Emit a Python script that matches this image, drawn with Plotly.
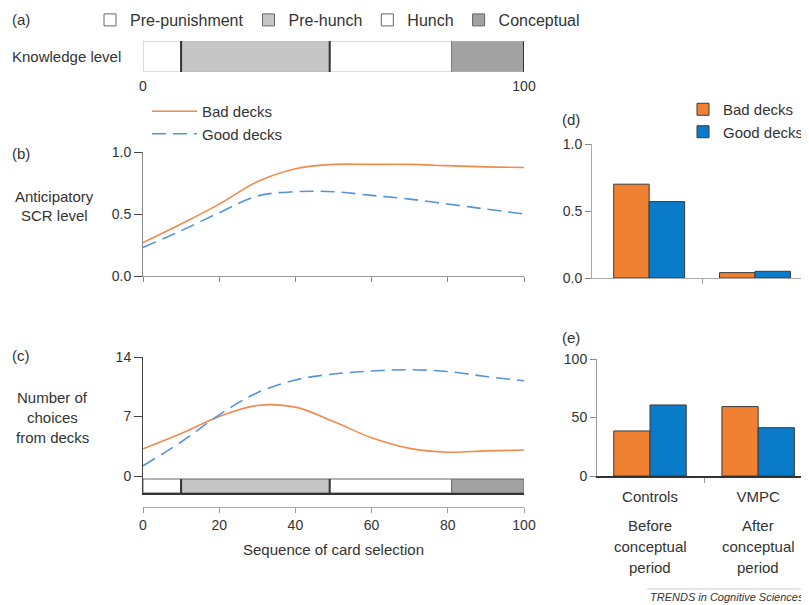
import plotly.graph_objects as go

# The page shows the figure with an 8px body margin, so the figure is laid
# out in screen pixels and converted to paper fractions with that offset.
OX, OY = 8, 8
W, H = 801, 597


def fx(px):
    return (px - OX) / W


def fy(py):
    return 1 - (py - OY) / H


# ---------------- data ----------------
stages = ["Pre-punishment", "Pre-hunch", "Hunch", "Conceptual"]
stage_bounds = [0, 10, 49, 81, 100]
stage_colors = ["#ffffff", "#c6c6c6", "#ffffff", "#a2a2a2"]

seq = [0, 10, 20, 30, 40, 50, 60, 70, 80, 90, 100]
scr_bad = [0.27, 0.42, 0.58, 0.76, 0.865, 0.90, 0.90, 0.90, 0.89, 0.88, 0.875]
scr_good = [0.23, 0.365, 0.51, 0.645, 0.68, 0.68, 0.65, 0.62, 0.58, 0.54, 0.50]
choices_bad = [3.2, 5.0, 7.0, 8.3, 8.1, 6.4, 4.5, 3.25, 2.8, 2.95, 3.05]
choices_good = [1.2, 4.0, 7.2, 9.8, 11.3, 12.0, 12.35, 12.5, 12.3, 11.7, 11.2]

groups = ["Controls", "VMPC"]
group_notes = [["Before", "conceptual", "period"], ["After", "conceptual", "period"]]
scr_bar_bad = [0.70, 0.04]
scr_bar_good = [0.57, 0.05]
pct_bad = [38.5, 59.3]
pct_good = [60.7, 41.3]

ORANGE_LINE = "#F28A4E"
BLUE_LINE = "#5594D8"
ORANGE_BAR = "#F08133"
BLUE_BAR = "#0A7BC8"
TXT = "#333333"
FONT = "Liberation Sans, Arial, sans-serif"

fig = go.Figure()

# ---------------- (a) knowledge level bar ----------------
for name, b0, b1, col in zip(stages, stage_bounds[:-1], stage_bounds[1:], stage_colors):
    fig.add_trace(go.Bar(
        y=[0], x=[b1 - b0], base=[b0], orientation="h", width=1,
        marker=dict(color=col, line=dict(color="#bbbbbb", width=1)),
        xaxis="x", yaxis="y", showlegend=False, hoverinfo="skip", name=name))

# ---------------- (b) anticipatory SCR ----------------
fig.add_trace(go.Scatter(x=seq, y=scr_bad, mode="lines", name="Bad decks",
                         line=dict(color=ORANGE_LINE, width=1.6, shape="spline"),
                         xaxis="x2", yaxis="y2", legend="legend"))
fig.add_trace(go.Scatter(x=seq, y=scr_good, mode="lines", name="Good decks",
                         line=dict(color=BLUE_LINE, width=1.6, shape="spline", dash="14px,7px"),
                         xaxis="x2", yaxis="y2", legend="legend"))

# ---------------- (c) number of choices ----------------
fig.add_trace(go.Scatter(x=seq, y=choices_bad, mode="lines", name="Bad decks",
                         line=dict(color=ORANGE_LINE, width=1.6, shape="spline"),
                         xaxis="x3", yaxis="y3", showlegend=False))
fig.add_trace(go.Scatter(x=seq, y=choices_good, mode="lines", name="Good decks",
                         line=dict(color=BLUE_LINE, width=1.6, shape="spline", dash="14px,7px"),
                         xaxis="x3", yaxis="y3", showlegend=False))

# strip under (c), also provides the stage legend
for name, b0, b1, col in zip(stages, stage_bounds[:-1], stage_bounds[1:], stage_colors):
    fig.add_trace(go.Bar(
        y=[0], x=[b1 - b0], base=[b0], orientation="h", width=1,
        marker=dict(color=col, line=dict(color="#666666", width=1)),
        xaxis="x4", yaxis="y4", legend="legend3", showlegend=True,
        hoverinfo="skip", name=name))

# ---------------- (d) SCR bars ----------------
pos = list(range(len(groups)))
BW = 0.335
fig.add_trace(go.Bar(x=pos, y=scr_bar_bad, name="Bad decks", width=BW, offset=-BW,
                     marker=dict(color=ORANGE_BAR, line=dict(color="#3a3a3a", width=1)),
                     xaxis="x5", yaxis="y5", legend="legend2"))
fig.add_trace(go.Bar(x=pos, y=scr_bar_good, name="Good decks", width=BW, offset=0,
                     marker=dict(color=BLUE_BAR, line=dict(color="#3a3a3a", width=1)),
                     xaxis="x5", yaxis="y5", legend="legend2"))

# ---------------- (e) percentage bars ----------------
fig.add_trace(go.Bar(x=pos, y=pct_bad, name="Bad decks", width=BW, offset=-BW,
                     marker=dict(color=ORANGE_BAR, line=dict(color="#3a3a3a", width=1)),
                     xaxis="x6", yaxis="y6", showlegend=False))
fig.add_trace(go.Bar(x=pos, y=pct_good, name="Good decks", width=BW, offset=0,
                     marker=dict(color=BLUE_BAR, line=dict(color="#3a3a3a", width=1)),
                     xaxis="x6", yaxis="y6", showlegend=False))

# ---------------- stage dividers ----------------
shapes = []
for ax in ["x", "x4"]:
    yr = "y domain" if ax == "x" else "y4 domain"
    y0, y1 = (0, 1) if ax == "x" else (0, 14 / 17)
    for b in stage_bounds[1:3]:
        shapes.append(dict(type="line", xref=ax, yref=yr, x0=b, x1=b, y0=y0, y1=y1,
                           line=dict(color="#333333", width=2)))
    shapes.append(dict(type="line", xref=ax, yref=yr, x0=stage_bounds[3], x1=stage_bounds[3],
                       y0=y0, y1=y1, line=dict(color="#7a7a7a", width=1)))
shapes.append(dict(type="line", xref="x", yref="y domain", x0=stage_bounds[-1], x1=stage_bounds[-1],
                   y0=0, y1=1, line=dict(color="#333333", width=2)))
shapes.append(dict(type="line", xref="paper", yref="paper", x0=fx(647), x1=1, y0=fy(589), y1=fy(589),
                   line=dict(color="#cccccc", width=1)))

# ---------------- annotations ----------------
ann = []


def txt(x, y, text, size=15, xanchor="left", italic=False, xref="paper"):
    ann.append(dict(x=x if xref != "paper" else fx(x), y=fy(y), xref=xref, yref="paper",
                    text=text, showarrow=False, xanchor=xanchor, yanchor="middle",
                    font=dict(size=size, color=TXT, family=FONT,
                              style="italic" if italic else "normal")))


txt(10, 20, "(a)")
txt(10, 56, "Knowledge level")
txt(10, 153, "(b)")
for i, line in enumerate(["Anticipatory", "SCR level"]):
    txt(54, 196 + 19 * i, line, xanchor="center")
txt(10, 355, "(c)")
for i, line in enumerate(["Number of", "choices", "from decks"]):
    txt(52, 397 + 20 * i, line, xanchor="center")
txt(560, 120, "(d)")
txt(560, 338, "(e)")
for g, notes in zip(pos, group_notes):
    for j, line in enumerate(notes):
        txt(g, 525 + 21 * j, line, xanchor="center", xref="x6")
txt(648, 597, "TRENDS in Cognitive Sciences", size=11, italic=True)

tick14 = dict(size=14, color=TXT, family=FONT)
axis_common = dict(showgrid=False, zeroline=False)

fig.update_layout(
    width=W, height=H,
    margin=dict(l=0, r=0, t=0, b=0, pad=0, autoexpand=False),
    paper_bgcolor="white", plot_bgcolor="white",
    font=dict(family=FONT, color=TXT, size=15),
    barmode="overlay",
    shapes=shapes,
    annotations=ann,
    # (a)
    xaxis=dict(domain=[fx(143), fx(524)], range=[0, 100], anchor="y", tickvals=[0, 100],
               ticks="", showline=False, ticklabelstandoff=4, tickfont=tick14, **axis_common),
    yaxis=dict(domain=[fy(72), fy(41)], range=[-0.5, 0.5], anchor="x", visible=False),
    # (b)
    xaxis2=dict(domain=[fx(143), fx(524)], range=[0, 100], anchor="y2", tickvals=seq[::2],
                showticklabels=False, ticks="outside", ticklen=5, tickcolor="#888888",
                showline=True, linecolor="#999999", **axis_common),
    yaxis2=dict(domain=[fy(276), fy(152)], range=[0, 1], anchor="x2", tickvals=[0, 0.5, 1],
                tickformat=".1f", ticks="outside", ticklen=8, tickcolor="#444444",
                showline=True, linecolor="#888888", tickfont=tick14, **axis_common),
    # (c)
    xaxis3=dict(domain=[fx(143), fx(524)], range=[0, 100], anchor="free", position=fy(507),
                tickvals=seq[::2], ticks="outside", ticklen=5, tickcolor="#999999",
                showline=True, linecolor="#aaaaaa", tickfont=tick14,
                title=dict(text="Sequence of card selection", font=dict(size=15, color=TXT), standoff=12),
                **axis_common),
    yaxis3=dict(domain=[fy(476), fy(357)], range=[0, 14], anchor="x3", tickvals=[0, 7, 14],
                ticks="outside", ticklen=8, tickcolor="#444444",
                showline=True, linecolor="#444444", tickfont=tick14, **axis_common),
    xaxis4=dict(domain=[fx(143), fx(524)], range=[0, 100], anchor="y4", showticklabels=False,
                ticks="", showline=True, linecolor="#333333", linewidth=1.5, **axis_common),
    yaxis4=dict(domain=[fy(493), fy(476)], range=[-0.5, 0.5 + 3 / 14], anchor="x4",
                showticklabels=False, ticks="", showline=True, linecolor="#444444", **axis_common),
    # (d)
    xaxis5=dict(domain=[fx(592), 1], range=[-0.54, 1.51], anchor="y5", showticklabels=False,
                ticks="", showline=True, linecolor="#aaaaaa",
                minor=dict(tickmode="array", tickvals=[0.5], ticks="outside", ticklen=5,
                           tickcolor="#999999"), **axis_common),
    yaxis5=dict(domain=[fy(278), fy(144)], range=[0, 1], anchor="x5", tickvals=[0, 0.5, 1],
                tickformat=".1f", ticks="outside", ticklen=6, tickcolor="#888888",
                showline=True, linecolor="#aaaaaa", tickfont=tick14, **axis_common),
    # (e)
    xaxis6=dict(domain=[fx(597), 1], range=[-0.49, 1.47], anchor="y6", tickvals=pos,
                ticktext=groups, ticks="", showline=True, linecolor="#333333", linewidth=1.5,
                ticklabelstandoff=6, tickfont=dict(size=15, color=TXT, family=FONT),
                minor=dict(tickmode="array", tickvals=[0.5], ticks="outside", ticklen=5,
                           tickcolor="#999999"), **axis_common),
    yaxis6=dict(domain=[fy(476), fy(359)], range=[0, 100], anchor="x6", tickvals=[0, 50, 100],
                ticks="outside", ticklen=6, tickcolor="#888888",
                showline=True, linecolor="#999999", tickfont=tick14, **axis_common),
    legend=dict(x=fx(147), y=fy(95), xanchor="left", yanchor="top", itemwidth=45,
                font=dict(size=15, color=TXT), bgcolor="rgba(0,0,0,0)", tracegroupgap=0),
    legend2=dict(x=fx(683), y=fy(93), xanchor="left", yanchor="top",
                 font=dict(size=15, color=TXT), bgcolor="rgba(0,0,0,0)", tracegroupgap=0),
    legend3=dict(orientation="h", x=fx(90), y=fy(3), xanchor="left", yanchor="top",
                 font=dict(size=16, color=TXT), bgcolor="rgba(0,0,0,0)"),
)

fig.write_html("out.html")
